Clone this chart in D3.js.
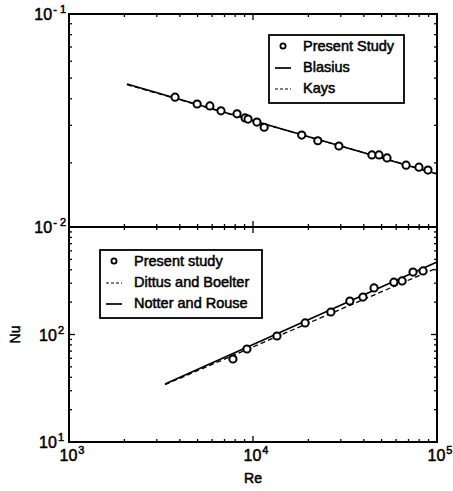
<!DOCTYPE html>
<html>
<head>
<meta charset="utf-8">
<script src="https://cdn.jsdelivr.net/npm/d3@7"></script>
<style>
  body { margin: 0; background: #fff; }
  text { font-family: "Liberation Sans", Arial, sans-serif; fill: #000; stroke: #000; stroke-width: 0.5px; }
</style>
</head>
<body>
<div class="chart"></div>
<script>
// top panel: Stanton number vs Re
let stRe = [3770, 4970, 5830, 6700, 8190, 9060, 9400, 10500, 11500, 18400, 22500, 29300, 44300, 48400, 53500, 67900, 79800, 89300]
let stVal = [0.0407, 0.0378, 0.0370, 0.0351, 0.0340, 0.0325, 0.0321, 0.0311, 0.0294, 0.0270, 0.0254, 0.0240, 0.0218, 0.0218, 0.0211, 0.0195, 0.0191, 0.0185]
let blasius = [[2065, 0.0469], [100000, 0.01774]]
let kays = [[2065, 0.0466], [100000, 0.0178]]

// bottom panel: Nusselt number vs Re
let nuRe = [7780, 9270, 13500, 19200, 26500, 33600, 39600, 45500, 58300, 64600, 74100, 84000]
let nuVal = [59.2, 73.3, 96.8, 128, 162, 205, 223, 271, 307, 315, 381, 390]
let dittus = [[3327, 34.2], [100000, 416]]
let notter = [[3327, 34.7], [100000, 472]]

let xExp = [3, 4, 5]
let topExp = [-1, -2]
let botExp = [2, 1]

let W = 453, H = 491
let left = 69, right = 437
let topY0 = 14, midY = 227, botY1 = 442

let svg = d3.select('.chart')
    .append('svg')
    .attr('width', W)
    .attr('height', H)
    .style('background', '#fff');

let x = d3.scaleLog().domain([1e3, 1e5]).range([left, right])
let yTop = d3.scaleLog().domain([1e-2, 1e-1]).range([midY, topY0])
let yBot = d3.scaleLog().domain([10, 1000]).range([botY1, midY])

function minorTicks(scale) {
    let d = scale.domain()
    let lo = Math.min(d[0], d[1]), hi = Math.max(d[0], d[1])
    let out = []
    for (let p = Math.floor(Math.log10(lo)); p < Math.log10(hi); p++) {
        for (let m = 1; m < 10; m++) {
            let v = m * Math.pow(10, p)
            if (v >= lo * 0.999 && v <= hi * 1.001) out.push(v)
        }
    }
    return out
}

function frame(y) {
    let [y1, y0] = y.range()
    let g = svg.append('g')
    let xt = minorTicks(x), yt = minorTicks(y)
    let isMajor = v => Math.abs(Math.log10(v) - Math.round(Math.log10(v))) < 1e-6
    // x ticks, inward on bottom and top
    g.selectAll('.xb').data(xt).enter().append('line')
        .attr('x1', d => x(d)).attr('x2', d => x(d))
        .attr('y1', y1).attr('y2', d => y1 - (isMajor(d) ? 6 : 3))
        .attr('stroke', '#000').attr('stroke-width', 1.3)
    g.selectAll('.xt').data(xt).enter().append('line')
        .attr('x1', d => x(d)).attr('x2', d => x(d))
        .attr('y1', y0).attr('y2', d => y0 + (isMajor(d) ? 6 : 3))
        .attr('stroke', '#000').attr('stroke-width', 1.3)
    // y ticks, inward on left and right
    g.selectAll('.yl').data(yt).enter().append('line')
        .attr('x1', left).attr('x2', d => left + (isMajor(d) ? 6 : 3))
        .attr('y1', d => y(d)).attr('y2', d => y(d))
        .attr('stroke', '#000').attr('stroke-width', 1.3)
    g.selectAll('.yr').data(yt).enter().append('line')
        .attr('x1', right).attr('x2', d => right - (isMajor(d) ? 6 : 3))
        .attr('y1', d => y(d)).attr('y2', d => y(d))
        .attr('stroke', '#000').attr('stroke-width', 1.3)
    g.append('rect')
        .attr('x', left).attr('y', y0)
        .attr('width', right - left).attr('height', y1 - y0)
        .attr('fill', 'none').attr('stroke', '#000').attr('stroke-width', 2)
}

frame(yTop)
frame(yBot)

// power-of-ten labels
function powLabel(xp, yp, exp, anchor) {
    let t = svg.append('text')
        .attr('x', xp).attr('y', yp)
        .attr('text-anchor', anchor)
        .style('font-size', '16px')
    t.append('tspan').text('10')
    t.append('tspan').attr('dy', -7).attr('dx', 1).style('font-size', '11px').text(exp)
}

topExp.forEach(e => powLabel(66, yTop(Math.pow(10, e)) + 6, e === -1 ? '- 1' : '- 2', 'end'))
botExp.forEach(e => powLabel(64, yBot(Math.pow(10, e)) + 6, e, 'end'))
xExp.forEach(e => powLabel(x(Math.pow(10, e)) + 3, 461, e, 'middle'))

svg.append('text').attr('x', x(1e4)).attr('y', 483)
    .attr('text-anchor', 'middle').style('font-size', '14px').text('Re')
svg.append('text')
    .attr('transform', 'translate(20,' + yBot(100) + ') rotate(-90)')
    .attr('text-anchor', 'middle').style('font-size', '14px').text('Nu')

let line = d3.line()

function drawLine(pts, y, dash) {
    svg.append('path')
        .attr('d', line(pts.map(p => [x(p[0]), y(p[1])])))
        .attr('fill', 'none')
        .attr('stroke', '#000')
        .attr('stroke-width', dash ? 1.3 : 1.7)
        .attr('stroke-dasharray', dash ? '5,3' : null)
}

function drawPoints(xs, ys, y) {
    svg.append('g').selectAll('circle')
        .data(xs.map((d, i) => [d, ys[i]]))
        .enter().append('circle')
        .attr('cx', d => x(d[0]))
        .attr('cy', d => y(d[1]))
        .attr('r', 3.6)
        .attr('fill', '#fff')
        .attr('stroke', '#000')
        .attr('stroke-width', 2)
}

drawLine(kays, yTop, true)
drawLine(blasius, yTop, false)
drawPoints(stRe, stVal, yTop)

drawLine(dittus, yBot, true)
drawLine(notter, yBot, false)
drawPoints(nuRe, nuVal, yBot)

// legends
function legend(bx, by, bw, bh, items) {
    let g = svg.append('g')
    g.append('rect').attr('x', bx).attr('y', by).attr('width', bw).attr('height', bh)
        .attr('fill', '#fff').attr('stroke', '#000').attr('stroke-width', 1.8)
    items.forEach((it, i) => {
        let cy = by + 11 + i * 21
        if (it.type === 'circle') {
            g.append('circle').attr('cx', bx + 14).attr('cy', cy).attr('r', 2.6)
                .attr('fill', '#fff').attr('stroke', '#000').attr('stroke-width', 1.8)
        } else {
            g.append('line').attr('x1', bx + 6).attr('x2', bx + 22)
                .attr('y1', cy + 1).attr('y2', cy + 1)
                .attr('stroke', '#000').attr('stroke-width', it.type === 'solid' ? 1.7 : 1.1)
                .attr('stroke-dasharray', it.type === 'dash' ? '3,2' : null)
        }
        g.append('text').attr('x', bx + 34).attr('y', cy + 5)
            .style('font-size', '14.5px').text(it.label)
    })
}

legend(269, 35, 135, 68, [
    { type: 'circle', label: 'Present Study' },
    { type: 'solid', label: 'Blasius' },
    { type: 'dash', label: 'Kays' }
])
legend(100, 250, 162, 68, [
    { type: 'circle', label: 'Present study' },
    { type: 'dash', label: 'Dittus and Boelter' },
    { type: 'solid', label: 'Notter and Rouse' }
])
</script>
</body>
</html>
